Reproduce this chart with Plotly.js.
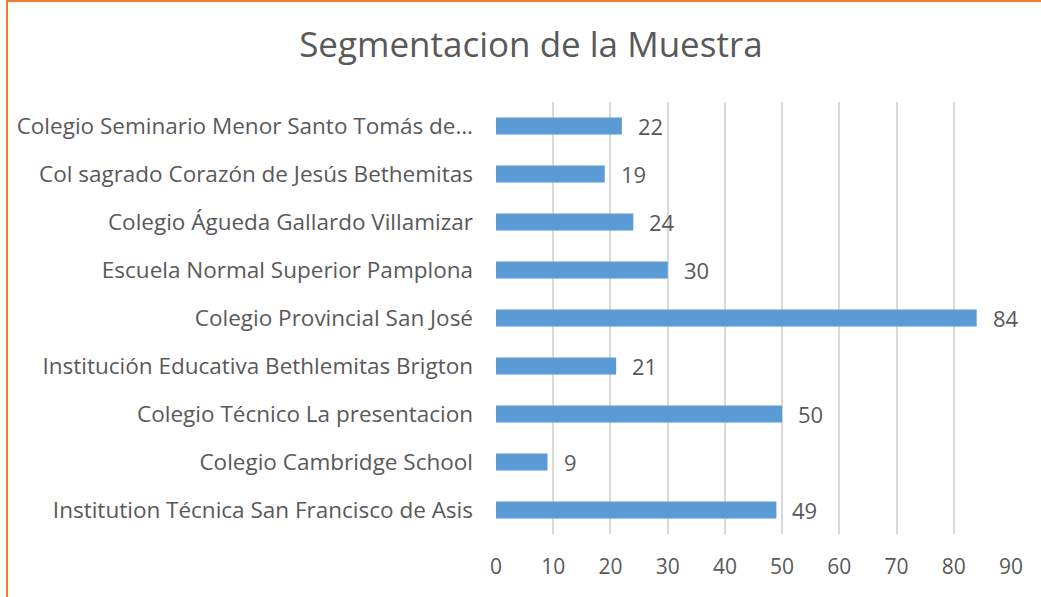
<!DOCTYPE html>
<html>
<head>
<meta charset="utf-8">
<script src="https://cdn.plot.ly/plotly-3.0.1.min.js"></script>
<style>
html,body{margin:0;padding:0;background:#fff;}
#wrap{position:relative;width:1041px;height:597px;overflow:hidden;}
#chart{width:1041px;height:597px;}
#bl{position:absolute;left:6px;top:0;width:2px;height:597px;background:#ED7D31;}
#bt{position:absolute;left:6px;top:0;width:1035px;height:2px;background:#ED7D31;}
</style>
</head>
<body>
<div id="wrap"><div id="chart"></div><div id="bl"></div><div id="bt"></div></div>
<script>
const categories = [
  "Colegio Seminario Menor Santo Tomás de…",
  "Col sagrado Corazón de Jesús Bethemitas",
  "Colegio Águeda Gallardo Villamizar",
  "Escuela Normal Superior Pamplona",
  "Colegio Provincial San José",
  "Institución Educativa Bethlemitas Brigton",
  "Colegio Técnico La presentacion",
  "Colegio Cambridge School",
  "Institution Técnica San Francisco de Asis"
];
const values = [22, 19, 24, 30, 84, 21, 50, 9, 49];
const xTicks = [0, 10, 20, 30, 40, 50, 60, 70, 80, 90];

const FONT = "Open Sans, sans-serif";
const GRAY = "#595959";

const trace = {
  type: "bar",
  orientation: "h",
  y: categories,
  x: values,
  marker: {color: "#5B9BD5", line: {width: 0}},
  hoverinfo: "none"
};

const annotations = categories.map((c, i) => ({
  x: values[i], y: c, xref: "x", yref: "y",
  text: String(values[i]), showarrow: false,
  xanchor: "left", xshift: 14,
  font: {family: FONT, size: 22, color: GRAY}
}));

const layout = {
  width: 1041, height: 597,
  margin: {l: 496, r: 30, t: 102, b: 63},
  paper_bgcolor: "#fff", plot_bgcolor: "#fff",
  showlegend: false,
  bargap: 0.65,
  title: {text: "Segmentacion de la Muestra", x: 0.51, xanchor: "center", y: 0.925, yanchor: "middle",
          font: {family: FONT, size: 35, color: GRAY}},
  xaxis: {range: [0, 90], tickvals: xTicks, ticktext: xTicks.map(String),
          showgrid: true, gridcolor: "#D9D9D9", gridwidth: 2, zeroline: false,
          showline: false, ticks: "", tickfont: {family: FONT, size: 21, color: GRAY},
          ticklabelstandoff: 18, fixedrange: true},
  yaxis: {type: "category", autorange: "reversed", showgrid: false, zeroline: false,
          showline: false, ticks: "", tickfont: {family: FONT, size: 22.5, color: GRAY},
          ticklabelstandoff: 22, fixedrange: true},
  annotations: annotations,
  font: {family: FONT, color: GRAY}
};

Plotly.newPlot("chart", [trace], layout, {displayModeBar: false, staticPlot: true});
</script>
</body>
</html>
